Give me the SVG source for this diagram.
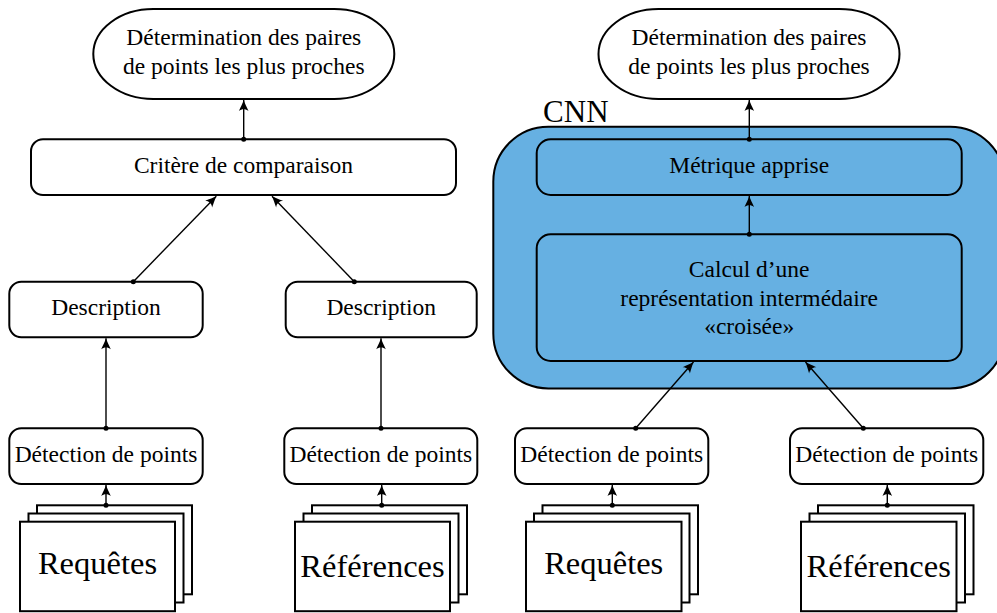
<svg xmlns="http://www.w3.org/2000/svg" width="997" height="613" viewBox="0 0 997 613">
<defs>
<marker id="arr" viewBox="-12 -6 13 12" markerWidth="13" markerHeight="12" refX="0" refY="0" orient="auto" markerUnits="userSpaceOnUse">
<path d="M0,0 C-3,-1 -7,-3 -11,-4.8 C-8.5,-2 -8.5,2 -11,4.8 C-7,3 -3,1 0,0 Z" fill="#000"/>
</marker>
</defs>
<style>
text{font-family:"Liberation Serif","Times New Roman",serif;fill:#000;text-anchor:middle}
.t{font-size:23.5px}
.big{font-size:32.5px}
.box{fill:#fff;stroke:#000;stroke-width:2}
.inner{fill:#66B0E2;stroke:#000;stroke-width:2}
.sheet{fill:#fff;stroke:#000;stroke-width:2}
.c{stroke:#000;stroke-width:1.4;fill:none;marker-end:url(#arr)}
.d{fill:#000}
</style>

<g id="cnn">
<rect x="493.3" y="126.7" width="511.7" height="261.7" rx="55" ry="55" fill="#66B0E2" stroke="#000" stroke-width="2"/>
<text x="575.8" y="121.7" style="font-size:31px">CNN</text>
</g>

<g id="res-left">
<rect class="box" x="93.3" y="9" width="301" height="90" rx="60" ry="45"/>
<text class="t" x="243.8" y="45">Détermination des paires</text>
<text class="t" x="243.8" y="73.5">de points les plus proches</text>
</g>
<g id="res-right">
<rect class="box" x="598.5" y="9" width="301" height="90" rx="60" ry="45"/>
<text class="t" x="749" y="45">Détermination des paires</text>
<text class="t" x="749" y="73.5">de points les plus proches</text>
</g>

<g id="critere">
<rect class="box" x="31" y="139.3" width="425" height="55.7" rx="12"/>
<text class="t" x="243.5" y="173.3">Critère de comparaison</text>
</g>

<g id="metrique">
<rect class="inner" x="536.7" y="139.3" width="425" height="55.7" rx="14"/>
<text class="t" x="749.2" y="172.7">Métrique apprise</text>
</g>

<g id="calcul">
<rect class="inner" x="536.7" y="234.3" width="425" height="126.7" rx="14"/>
<text class="t" x="749.2" y="276.7">Calcul d’une</text>
<text class="t" x="749.2" y="306">représentation intermédaire</text>
<text class="t" x="749.2" y="334.3">«croisée»</text>
</g>

<g id="desc-left">
<rect class="box" x="9.3" y="281.7" width="193.4" height="55.6" rx="12"/>
<text class="t" x="106" y="315">Description</text>
</g>
<g id="desc-right">
<rect class="box" x="285.7" y="281.7" width="191" height="55.6" rx="12"/>
<text class="t" x="381.2" y="315">Description</text>
</g>

<g id="det-1">
<rect class="box" x="9.3" y="428.3" width="193.4" height="55.7" rx="12"/>
<text class="t" x="106" y="461.7">Détection de points</text>
</g>
<g id="det-2">
<rect class="box" x="284.3" y="428.3" width="193" height="55.7" rx="12"/>
<text class="t" x="380.8" y="461.7">Détection de points</text>
</g>
<g id="det-3">
<rect class="box" x="515" y="428.3" width="193.3" height="55.7" rx="12"/>
<text class="t" x="611.7" y="461.7">Détection de points</text>
</g>
<g id="det-4">
<rect class="box" x="790" y="428.3" width="193.3" height="55.7" rx="12"/>
<text class="t" x="886.7" y="461.7">Détection de points</text>
</g>

<g id="req-left">
<rect class="sheet" x="37" y="505.3" width="155" height="89"/>
<rect class="sheet" x="28.5" y="513.5" width="155" height="89"/>
<rect class="sheet" x="20" y="521.7" width="155" height="89.5"/>
<text class="big" x="97.5" y="574">Requêtes</text>
</g>
<g id="ref-left">
<rect class="sheet" x="312" y="505.3" width="155" height="89"/>
<rect class="sheet" x="303.5" y="513.5" width="155" height="89"/>
<rect class="sheet" x="295" y="521.7" width="155" height="89.5"/>
<text class="big" x="372.5" y="577">Références</text>
</g>
<g id="req-right">
<rect class="sheet" x="542.5" y="505.3" width="155.5" height="89"/>
<rect class="sheet" x="534" y="513.5" width="155.5" height="89"/>
<rect class="sheet" x="526" y="521.7" width="155.5" height="89.5"/>
<text class="big" x="603.7" y="574">Requêtes</text>
</g>
<g id="ref-right">
<rect class="sheet" x="818" y="505.3" width="155.5" height="89"/>
<rect class="sheet" x="809.5" y="513.5" width="155.5" height="89"/>
<rect class="sheet" x="801" y="521.7" width="155.5" height="89.5"/>
<text class="big" x="878.7" y="577">Références</text>
</g>

<g id="connectors">
<line class="c" x1="106" y1="505.3" x2="106" y2="485"/>
<line class="c" x1="381.7" y1="505.3" x2="381.7" y2="485"/>
<line class="c" x1="612.3" y1="505.3" x2="612.3" y2="485"/>
<line class="c" x1="887.3" y1="505.3" x2="887.3" y2="485"/>
<line class="c" x1="106" y1="428.3" x2="106" y2="338.3"/>
<line class="c" x1="381" y1="428.3" x2="381" y2="338.3"/>
<line class="c" x1="133.3" y1="281.7" x2="216.3" y2="196.2"/>
<line class="c" x1="354.3" y1="281.7" x2="272" y2="196.2"/>
<line class="c" x1="243.7" y1="139.3" x2="243.7" y2="100"/>
<line class="c" x1="635.7" y1="428.3" x2="693.5" y2="362"/>
<line class="c" x1="863.3" y1="428.3" x2="805.5" y2="362"/>
<line class="c" x1="749.3" y1="234.3" x2="749.3" y2="196"/>
<line class="c" x1="749.3" y1="139.3" x2="749.3" y2="100"/>
<circle class="d" cx="106" cy="505.3" r="2.5"/>
<circle class="d" cx="381.7" cy="505.3" r="2.5"/>
<circle class="d" cx="612.3" cy="505.3" r="2.5"/>
<circle class="d" cx="887.3" cy="505.3" r="2.5"/>
<circle class="d" cx="106" cy="428.3" r="2.5"/>
<circle class="d" cx="381" cy="428.3" r="2.5"/>
<circle class="d" cx="133.3" cy="281.7" r="2.5"/>
<circle class="d" cx="354.3" cy="281.7" r="2.5"/>
<circle class="d" cx="243.7" cy="139.3" r="2.5"/>
<circle class="d" cx="635.7" cy="428.3" r="2.5"/>
<circle class="d" cx="863.3" cy="428.3" r="2.5"/>
<circle class="d" cx="749.3" cy="234.3" r="2.5"/>
<circle class="d" cx="749.3" cy="139.3" r="2.5"/>
</g>
</svg>
